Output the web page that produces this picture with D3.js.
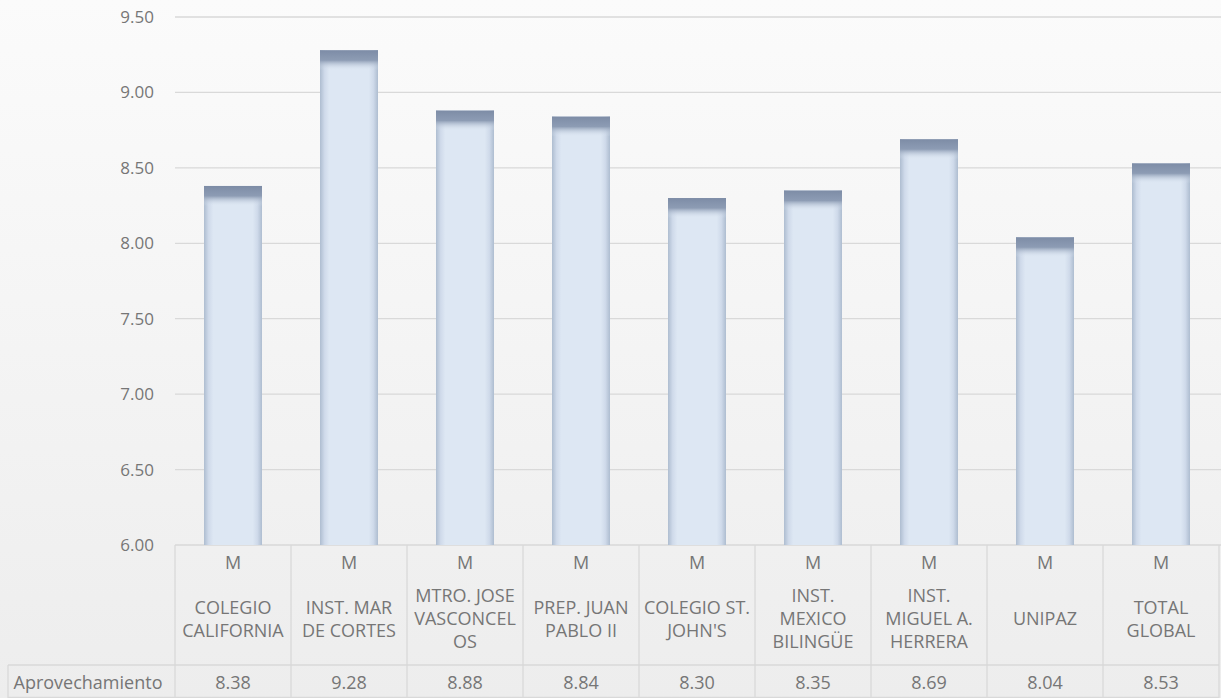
<!DOCTYPE html>
<html>
<head>
<meta charset="utf-8">
<script src="https://cdn.jsdelivr.net/npm/d3@7"></script>
<style>
  body { margin: 0; }
  svg { display: block; font-family: "Open Sans", sans-serif; }
</style>
</head>
<body>
<svg id="chart" width="1221" height="698"></svg>
<script>
// chart data
const categories = ["COLEGIO CALIFORNIA", "INST. MAR DE CORTES", "MTRO. JOSE VASCONCELOS",
    "PREP. JUAN PABLO II", "COLEGIO ST. JOHN'S", "INST. MEXICO BILINGÜE",
    "INST. MIGUEL A. HERRERA", "UNIPAZ", "TOTAL GLOBAL"];
const categoryLines = [["COLEGIO", "CALIFORNIA"], ["INST. MAR", "DE CORTES"],
    ["MTRO. JOSE", "VASCONCEL", "OS"], ["PREP. JUAN", "PABLO II"], ["COLEGIO ST.", "JOHN'S"],
    ["INST.", "MEXICO", "BILINGÜE"], ["INST.", "MIGUEL A.", "HERRERA"], ["UNIPAZ"], ["TOTAL", "GLOBAL"]];
const groupLabel = "M";
const seriesName = "Aprovechamiento";
const values = [8.38, 9.28, 8.88, 8.84, 8.30, 8.35, 8.69, 8.04, 8.53];
const yTicks = [6.0, 6.5, 7.0, 7.5, 8.0, 8.5, 9.0, 9.5];

(function () {
    "use strict";

    const svg = d3.select("#chart");
    const W = 1221, H = 698;
    const left = 175, right = 1219, top = 17, bottom = 545;
    const textColor = "#767676";
    const lineColor = "#d9d9d9";

    const defs = svg.append("defs");
    const bg = defs.append("linearGradient").attr("id", "bg")
        .attr("x1", 0).attr("y1", 0).attr("x2", 0).attr("y2", 1);
    bg.append("stop").attr("offset", "0%").attr("stop-color", "#fbfbfb");
    bg.append("stop").attr("offset", "100%").attr("stop-color", "#ededed");

    const side = defs.append("linearGradient").attr("id", "side")
        .attr("x1", 0).attr("y1", 0).attr("x2", 1).attr("y2", 0);
    [[0, "#aebdd0"], [0.08, "#cfdaea"], [0.16, "#dde7f3"], [0.84, "#dde7f3"], [0.92, "#cfdaea"], [1, "#aebdd0"]]
        .forEach(([o, c]) => side.append("stop").attr("offset", o).attr("stop-color", c));

    const cap = defs.append("linearGradient").attr("id", "cap")
        .attr("x1", 0).attr("y1", 0).attr("x2", 0).attr("y2", 1);
    [[0, "#7d8ca6", 1], [0.5, "#8d9cb4", 1], [1, "#dde7f3", 0]]
        .forEach(([o, c, a]) => cap.append("stop").attr("offset", o).attr("stop-color", c).attr("stop-opacity", a));

    svg.append("rect").attr("width", W).attr("height", H).attr("fill", "url(#bg)");

    const x = d3.scaleBand().domain(categories).range([left, right]).paddingInner(0.5).paddingOuter(0.25);
    const y = d3.scaleLinear().domain([6, 9.5]).range([bottom, top]);

    // gridlines
    svg.append("g").selectAll("line").data(yTicks).join("line")
        .attr("x1", left).attr("x2", W)
        .attr("y1", d => y(d)).attr("y2", d => y(d))
        .attr("stroke", lineColor).attr("stroke-width", 1.3);

    // y axis labels
    svg.append("g").selectAll("text").data(yTicks).join("text")
        .attr("x", 154).attr("y", d => y(d)).attr("dy", "0.35em")
        .attr("text-anchor", "end").attr("font-size", 17).attr("fill", textColor)
        .text(d => d3.format(".2f")(d));

    // bars
    const bars = svg.append("g").selectAll("g").data(values).join("g");
    bars.append("rect")
        .attr("x", (d, i) => x(categories[i])).attr("width", x.bandwidth())
        .attr("y", d => y(d)).attr("height", d => bottom - y(d))
        .attr("fill", "url(#side)");
    bars.append("rect")
        .attr("x", (d, i) => x(categories[i])).attr("width", x.bandwidth())
        .attr("y", d => y(d)).attr("height", 20)
        .attr("fill", "url(#cap)");

    // data table
    const step = x.step();
    const cells = d3.range(categories.length + 1).map(i => left + i * step);
    const table = svg.append("g").attr("stroke", lineColor).attr("stroke-width", 1.3);
    table.selectAll("line.v").data(cells).join("line")
        .attr("x1", d => d).attr("x2", d => d).attr("y1", bottom).attr("y2", H);
    table.append("line").attr("x1", 8).attr("x2", right).attr("y1", 665).attr("y2", 665);
    table.append("line").attr("x1", 8).attr("x2", 8).attr("y1", 665).attr("y2", H);
    table.append("line").attr("x1", 8).attr("x2", right).attr("y1", H - 0.5).attr("y2", H - 0.5);

    const cols = svg.append("g").attr("font-size", 18).attr("fill", textColor).attr("text-anchor", "middle")
        .selectAll("g").data(categories).join("g")
        .attr("transform", d => `translate(${x(d) + x.bandwidth() / 2},0)`);
    cols.append("text").attr("y", 569).text(groupLabel);
    cols.each(function (d, i) {
        const lines = categoryLines[i];
        const t = d3.select(this).append("text");
        const start = 625 - (lines.length - 1) * 11.5;
        lines.forEach((l, k) => t.append("tspan").attr("x", 0).attr("y", start + k * 23).text(l));
    });
    cols.append("text").attr("y", 689).text((d, i) => d3.format(".2f")(values[i]));

    svg.append("text").attr("x", 88).attr("y", 689).attr("text-anchor", "middle")
        .attr("font-size", 18).attr("fill", textColor).text(seriesName);
})();
</script>
</body>
</html>
